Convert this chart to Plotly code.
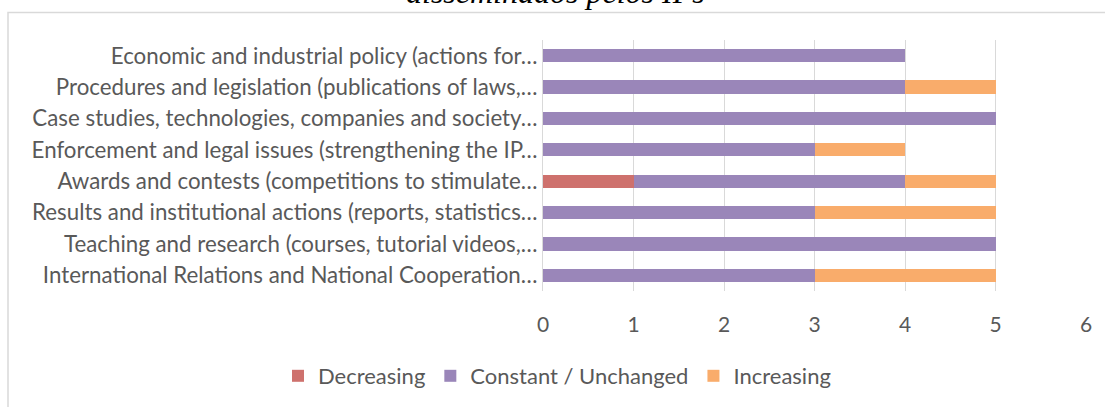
import plotly.graph_objects as go

categories = [
    "International Relations and National Cooperation…",
    "Teaching and research (courses, tutorial videos,…",
    "Results and institutional actions (reports, statistics…",
    "Awards and contests (competitions to stimulate…",
    "Enforcement and legal issues (strengthening the IP…",
    "Case studies, technologies, companies and society…",
    "Procedures and legislation (publications of laws,…",
    "Economic and industrial policy (actions for…",
]
decreasing = [0, 0, 0, 1, 0, 0, 0, 0]
constant = [3, 5, 3, 3, 3, 5, 4, 4]
increasing = [2, 0, 2, 1, 1, 0, 1, 0]
series_names = ["Decreasing", "Constant / Unchanged", "Increasing"]
colors = ["#CE716D", "#9A86B9", "#F9AC6B"]
x_ticks = [0, 1, 2, 3, 4, 5, 6]
title_text = "disseminados pelos IPs"

W, H = 1105, 407
ml, mr, mt, mb = 543, 19, 40, 116
pw, ph = W - ml - mr, H - mt - mb

fig = go.Figure()
for name, vals, col in zip(series_names, [decreasing, constant, increasing], colors):
    fig.add_trace(go.Bar(
        y=categories, x=vals, name=name, orientation="h",
        marker=dict(color=col, line=dict(width=0)),
    ))

font_family = "Lato, Open Sans, sans-serif"
fig.update_layout(
    width=W, height=H,
    barmode="stack",
    bargap=0.58,
    margin=dict(l=ml, r=mr, t=mt, b=mb, pad=0, autoexpand=False),
    paper_bgcolor="white",
    plot_bgcolor="white",
    font=dict(family=font_family, size=22, color="#595959"),
    xaxis=dict(
        range=[0, 6], tickvals=x_ticks, showgrid=True, gridcolor="#D9D9D9",
        gridwidth=1, zeroline=False, showline=False, ticks="",
        tickfont=dict(size=21, color="#595959"), ticklabelstandoff=19,
        automargin=False,
    ),
    yaxis=dict(
        showgrid=False, showline=True, linecolor="#D9D9D9", linewidth=1,
        ticks="", tickfont=dict(size=22.3, color="#595959"), ticklabelstandoff=0,
        automargin=False,
    ),
    legend=dict(
        orientation="h", xref="paper", yref="paper",
        x=(278 - ml) / pw, xanchor="left",
        y=-(376 - (mt + ph)) / ph, yanchor="middle",
        font=dict(size=22, color="#595959"), itemwidth=30,
        traceorder="normal", bgcolor="rgba(0,0,0,0)",
    ),
    showlegend=True,
)

# chart area border (Excel-style)
fig.add_shape(
    type="rect", xref="paper", yref="paper",
    x0=(8 - ml) / pw, x1=(W + 5 - ml) / pw,
    y0=-(H + 5 - mt - ph) / ph, y1=1 + (mt - 12.5) / ph,
    line=dict(color="#D9D9D9", width=1.5), fillcolor="rgba(0,0,0,0)",
    layer="below",
)

fig.add_annotation(
    text=title_text, xref="paper", yref="paper",
    x=(555 - ml) / pw, xanchor="center",
    y=1 + (mt - 12) / ph, yanchor="bottom",
    showarrow=False,
    font=dict(family="Liberation Serif, serif", size=32, color="#000000", style="italic"),
)

fig.write_html("out.html", config={"displayModeBar": False},
               post_script="document.body.style.margin='0';")
